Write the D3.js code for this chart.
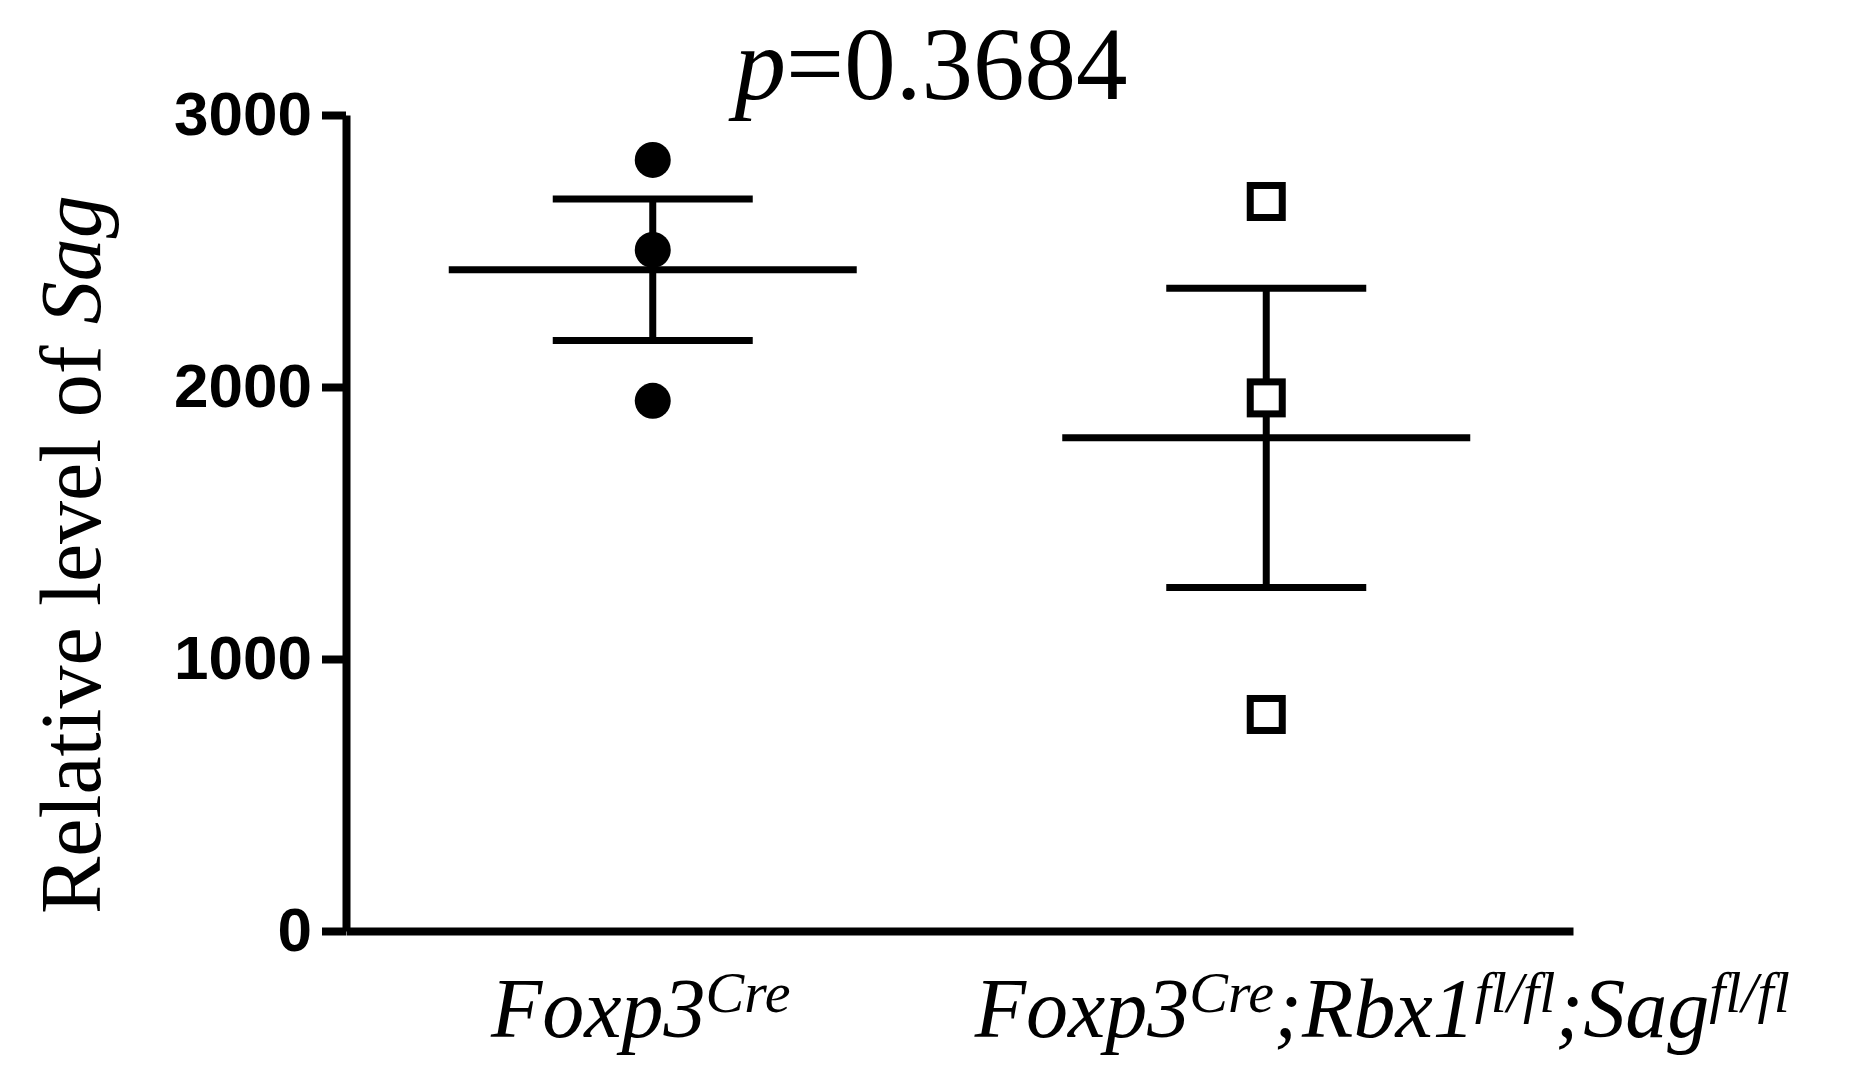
<!DOCTYPE html>
<html><head><meta charset="utf-8">
<script src="https://cdn.jsdelivr.net/npm/d3@7"></script>
<style>body{margin:0;background:#fff}svg{display:block}</style>
</head><body>
<script>
const groups = ["Foxp3Cre", "Foxp3Cre;Rbx1fl/fl;Sagfl/fl"];
const pointsG1 = [2835, 2504, 1949];
const pointsG2 = [2682, 1960, 796];
const means = [2431, 1813];
const sems = [260, 550];
const yTicks = [0, 1000, 2000, 3000];
const pText = "0.3684";

const W = 1857, H = 1073;
const svg = d3.select("body").append("svg").attr("width", W).attr("height", H);

const x = d3.scalePoint().domain(groups).range([346, 1573]).padding(0.5);
const y = d3.scaleLinear().domain([0, 3000]).range([931, 115]);

// Y axis
const yAxis = svg.append("g").attr("transform", "translate(346,0)")
  .call(d3.axisLeft(y).tickValues(yTicks).tickSize(24).tickSizeOuter(0).tickPadding(10).tickFormat(d3.format("d")));
yAxis.select(".domain").attr("stroke", "#000").attr("stroke-width", 8);
yAxis.selectAll(".tick line").attr("stroke", "#000").attr("stroke-width", 8);
yAxis.selectAll(".tick text").attr("fill", "#000")
  .style("font-family", "'Liberation Sans', Arial, sans-serif").style("font-weight", "bold").style("font-size", "62px");

// X axis
const xAxis = svg.append("g").attr("transform", "translate(0,931)")
  .call(d3.axisBottom(x).tickSize(0).tickSizeOuter(0).tickFormat(""));
xAxis.select(".domain").attr("stroke", "#000").attr("stroke-width", 8);

// Error bars
const lw = 7;
const g1 = groups.map((g, i) => ({g, mean: means[i], sem: sems[i]}));
const eb = svg.append("g").attr("stroke", "#000").attr("stroke-width", lw);
g1.forEach(d => {
  const cx = x(d.g);
  eb.append("line").attr("x1", cx - 204).attr("x2", cx + 204).attr("y1", y(d.mean)).attr("y2", y(d.mean));
  eb.append("line").attr("x1", cx).attr("x2", cx).attr("y1", y(d.mean + d.sem)).attr("y2", y(d.mean - d.sem));
  eb.append("line").attr("x1", cx - 100).attr("x2", cx + 100).attr("y1", y(d.mean + d.sem)).attr("y2", y(d.mean + d.sem));
  eb.append("line").attr("x1", cx - 100).attr("x2", cx + 100).attr("y1", y(d.mean - d.sem)).attr("y2", y(d.mean - d.sem));
});

// Points
svg.append("g").selectAll("circle").data(pointsG1).join("circle")
  .attr("cx", x(groups[0])).attr("cy", d => y(d)).attr("r", 18).attr("fill", "#000");
svg.append("g").selectAll("rect").data(pointsG2).join("rect")
  .attr("x", x(groups[1]) - 16).attr("y", d => y(d) - 16).attr("width", 32).attr("height", 32)
  .attr("fill", "#fff").attr("stroke", "#000").attr("stroke-width", 7);

// Titles
const serif = "'Liberation Serif', 'Times New Roman', serif";
const pt = svg.append("text").attr("x", 931).attr("y", 99).attr("text-anchor", "middle")
  .style("font-family", serif).style("font-size", "103px").attr("fill", "#000");
pt.append("tspan").style("font-style", "italic").text("p");
pt.append("tspan").text("=" + pText);

const yt = svg.append("text").attr("transform", "translate(100,914) rotate(-90)").attr("text-anchor", "start")
  .style("font-family", serif).style("font-size", "86px").attr("fill", "#000");
yt.append("tspan").text("Relative level of ");
yt.append("tspan").style("font-style", "italic").text("Sag");

// X labels with superscripts
const labelParts = [
  [["Foxp3", false], ["Cre", true]],
  [["Foxp3", false], ["Cre", true], [";Rbx1", false], ["fl/fl", true], [";Sag", false], ["fl/fl", true]]
];
const labelOffsets = [-12, 116];
labelParts.forEach((parts, i) => {
  const t = svg.append("text").attr("x", x(groups[i]) + labelOffsets[i]).attr("y", 1037).attr("text-anchor", "middle")
    .style("font-family", serif).style("font-style", "italic").style("font-size", "84px").attr("fill", "#000");
  let sup = false;
  parts.forEach(([s, isSup]) => {
    const ts = t.append("tspan").text(s);
    if (isSup && !sup) { ts.attr("dy", -25).style("font-size", "58px"); sup = true; }
    else if (!isSup && sup) { ts.attr("dy", 25); sup = false; }
    else if (isSup) ts.style("font-size", "58px");
  });
});
</script>
</body></html>
